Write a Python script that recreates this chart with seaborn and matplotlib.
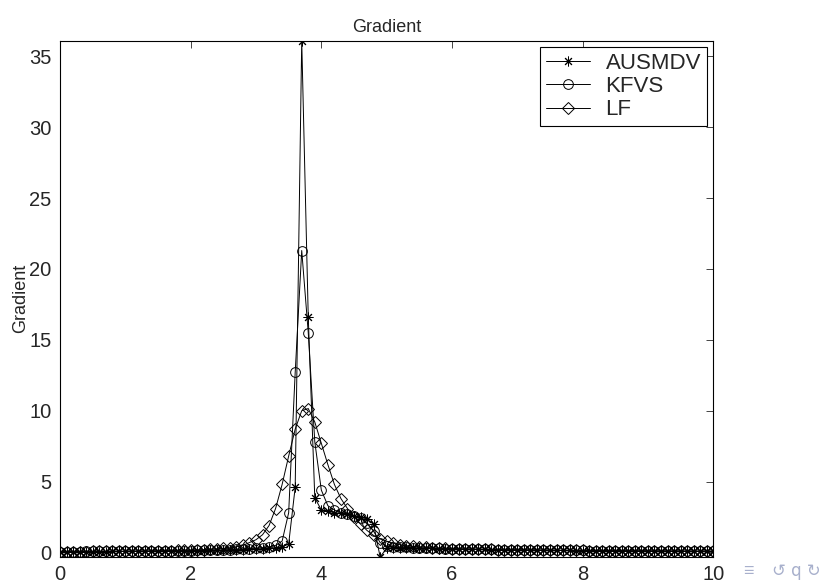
import numpy as np
import matplotlib
matplotlib.use("Agg")
import matplotlib.pyplot as plt
import seaborn as sns

# sampling grid, 0 to 10 step 0.1
x = np.linspace(0, 10, 101)

ausmdv = [
    0.05, 0.05, 0.05, 0.05, 0.06, 0.06, 0.06, 0.06, 0.07, 0.07,
    0.07, 0.08, 0.08, 0.08, 0.09, 0.09, 0.10, 0.10, 0.11, 0.11,
    0.12, 0.12, 0.13, 0.14, 0.15, 0.16, 0.17, 0.19, 0.20, 0.22,
    0.24, 0.27, 0.30, 0.34, 0.40, 0.60, 4.60, 36.1, 16.6, 3.85,
    3.00, 2.90, 2.80, 2.75, 2.70, 2.60, 2.50, 2.35, 2.00, -0.32,
    0.30, 0.35, 0.35, 0.33, 0.31, 0.30, 0.29, 0.28, 0.27, 0.26,
    0.25, 0.24, 0.23, 0.22, 0.22, 0.21, 0.20, 0.19, 0.19, 0.18,
    0.18, 0.17, 0.17, 0.16, 0.16, 0.15, 0.15, 0.14, 0.14, 0.13,
    0.13, 0.13, 0.12, 0.12, 0.12, 0.11, 0.11, 0.11, 0.10, 0.10,
    0.10, 0.10, 0.09, 0.09, 0.09, 0.09, 0.08, 0.08, 0.08, 0.08,
    0.08,
]
kfvs = [
    0.06, 0.06, 0.06, 0.06, 0.07, 0.07, 0.07, 0.07, 0.08, 0.08,
    0.08, 0.09, 0.09, 0.09, 0.10, 0.10, 0.11, 0.11, 0.12, 0.12,
    0.13, 0.14, 0.15, 0.16, 0.17, 0.18, 0.20, 0.22, 0.24, 0.27,
    0.30, 0.34, 0.40, 0.50, 0.80, 2.80, 12.7, 21.3, 15.5, 7.80,
    4.40, 3.30, 3.00, 2.80, 2.70, 2.55, 2.40, 2.10, 1.50, 0.70,
    0.45, 0.40, 0.38, 0.36, 0.34, 0.32, 0.30, 0.29, 0.28, 0.27,
    0.26, 0.25, 0.24, 0.23, 0.22, 0.21, 0.21, 0.20, 0.19, 0.19,
    0.18, 0.18, 0.17, 0.17, 0.16, 0.16, 0.15, 0.15, 0.14, 0.14,
    0.14, 0.13, 0.13, 0.13, 0.12, 0.12, 0.12, 0.11, 0.11, 0.11,
    0.11, 0.10, 0.10, 0.10, 0.10, 0.09, 0.09, 0.09, 0.09, 0.09,
    0.09,
]
lf = [
    0.05, 0.05, 0.06, 0.06, 0.06, 0.07, 0.07, 0.07, 0.08, 0.08,
    0.09, 0.09, 0.10, 0.10, 0.11, 0.12, 0.12, 0.13, 0.14, 0.15,
    0.16, 0.18, 0.20, 0.22, 0.25, 0.28, 0.33, 0.40, 0.50, 0.70,
    0.90, 1.25, 1.90, 3.10, 4.80, 6.80, 8.70, 10.0, 10.15, 9.20,
    7.70, 6.20, 4.80, 3.80, 3.10, 2.50, 2.00, 1.55, 1.20, 0.95,
    0.80, 0.65, 0.55, 0.48, 0.43, 0.39, 0.36, 0.33, 0.31, 0.29,
    0.27, 0.26, 0.25, 0.24, 0.23, 0.22, 0.21, 0.20, 0.19, 0.19,
    0.18, 0.18, 0.17, 0.17, 0.16, 0.16, 0.15, 0.15, 0.14, 0.14,
    0.14, 0.13, 0.13, 0.13, 0.12, 0.12, 0.12, 0.11, 0.11, 0.11,
    0.11, 0.10, 0.10, 0.10, 0.10, 0.10, 0.09, 0.09, 0.09, 0.09,
    0.09,
]

series = [("AUSMDV", ausmdv, (8, 2, 0)), ("KFVS", kfvs, "o"), ("LF", lf, "D")]

sns.set_style("white")
plt.rcParams["font.family"] = ["Liberation Sans", "DejaVu Sans"]

fig = plt.figure(figsize=(8.37, 5.83), dpi=100)
ax = fig.add_axes([0.0717, 0.0446, 0.7805, 0.8856])

for name, vals, mk in series:
    ms = 6 if mk == "D" else 7
    sns.lineplot(x=x, y=vals, ax=ax, color="black", lw=0.7, marker=mk,
                 ms=ms, mfc="none", mec="black", mew=0.7, label=name)

ymin = min(min(ausmdv), min(kfvs), min(lf))
ymax = max(max(ausmdv), max(kfvs), max(lf))
ax.set_xlim(0, 10)
ax.set_ylim(ymin, ymax)
ax.set_xticks([0, 2, 4, 6, 8, 10])
ax.set_yticks([0, 5, 10, 15, 20, 25, 30, 35])
ax.tick_params(direction="in", top=True, right=True, length=5, width=0.6,
               labelsize=14.5, pad=6)
for s in ax.spines.values():
    s.set_color("black")
    s.set_linewidth(0.8)

ax.set_title("Gradient", fontsize=13, pad=6)
ax.set_ylabel("Gradient", fontsize=13, labelpad=0)
ax.set_xlabel("")

leg = ax.legend(loc="upper right", fontsize=16, frameon=True, fancybox=False,
                edgecolor="black", framealpha=1, borderaxespad=0.3,
                handlelength=2.0, handletextpad=0.7, labelspacing=0.1,
                borderpad=0.25)
leg.get_frame().set_linewidth(0.8)

# beamer navigation symbols
fig.text(0.888, 0.012, "\u2261", fontsize=13, color="#a8b0cc")
fig.text(0.922, 0.012, "\u21ba q \u21bb", fontsize=12, color="#a8b0cc",
         family=["DejaVu Sans"])

fig.savefig("out.png", dpi=100)
